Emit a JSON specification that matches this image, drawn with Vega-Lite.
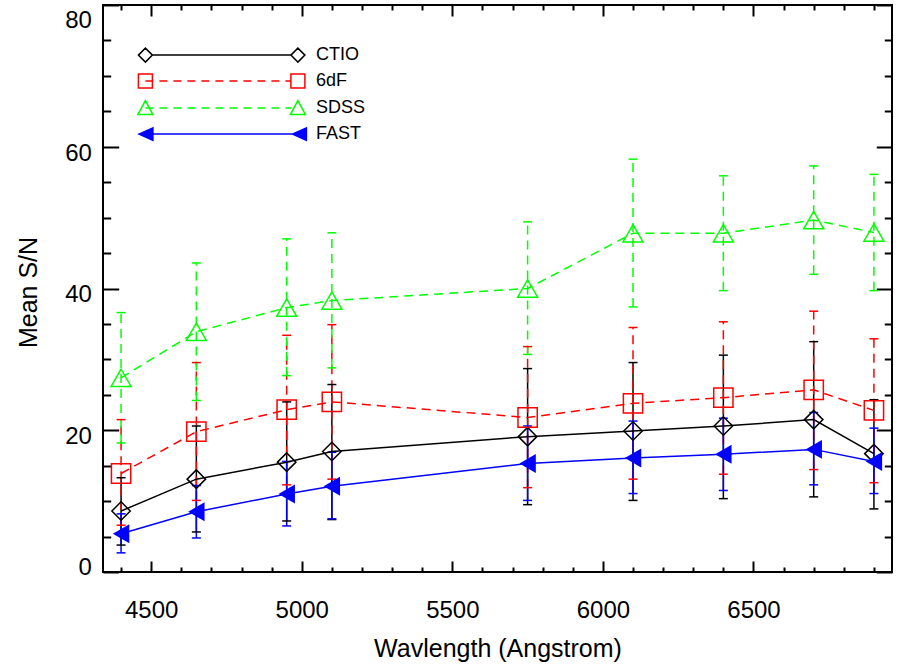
{
  "$schema": "https://vega.github.io/schema/vega-lite/v6.json",
  "width": 789,
  "height": 567,
  "autosize": {"type": "none"},
  "padding": {"left": 103, "top": 5, "right": 7, "bottom": 93},
  "background": "white",
  "config": {
    "view": {"stroke": "#000000", "strokeWidth": 2},
    "axis": {"grid": false, "domain": false, "labelFont": "Liberation Sans", "titleFont": "Liberation Sans", "labelColor": "#000000", "titleColor": "#000000", "tickColor": "#000000", "tickWidth": 2, "titleFontWeight": "normal"},
    "legend": {"labelFont": "Liberation Sans"}
  },
  "data": {
    "values": [
      {"series": "CTIO", "wl": 4400, "sn": 8.6, "lo": 3.8, "hi": 13.3},
      {"series": "CTIO", "wl": 4650, "sn": 13.1, "lo": 5.65, "hi": 20.6},
      {"series": "CTIO", "wl": 4950, "sn": 15.5, "lo": 7.2, "hi": 24.0},
      {"series": "CTIO", "wl": 5100, "sn": 17.0, "lo": 7.4, "hi": 26.45},
      {"series": "CTIO", "wl": 5750, "sn": 19.1, "lo": 9.5, "hi": 28.7},
      {"series": "CTIO", "wl": 6100, "sn": 19.9, "lo": 10.1, "hi": 29.55},
      {"series": "CTIO", "wl": 6400, "sn": 20.6, "lo": 10.35, "hi": 30.6},
      {"series": "CTIO", "wl": 6700, "sn": 21.5, "lo": 10.6, "hi": 32.5},
      {"series": "CTIO", "wl": 6900, "sn": 16.7, "lo": 8.9, "hi": 24.3},
      {"series": "6dF", "wl": 4400, "sn": 13.9, "lo": 6.6, "hi": 21.5},
      {"series": "6dF", "wl": 4650, "sn": 19.8, "lo": 10.1, "hi": 29.55},
      {"series": "6dF", "wl": 4950, "sn": 22.9, "lo": 12.3, "hi": 33.4},
      {"series": "6dF", "wl": 5100, "sn": 24.0, "lo": 13.1, "hi": 34.9},
      {"series": "6dF", "wl": 5750, "sn": 21.8, "lo": 11.9, "hi": 31.8},
      {"series": "6dF", "wl": 6100, "sn": 23.8, "lo": 13.1, "hi": 34.5},
      {"series": "6dF", "wl": 6400, "sn": 24.6, "lo": 13.8, "hi": 35.3},
      {"series": "6dF", "wl": 6700, "sn": 25.7, "lo": 14.45, "hi": 36.8},
      {"series": "6dF", "wl": 6900, "sn": 22.8, "lo": 12.6, "hi": 32.9},
      {"series": "SDSS", "wl": 4400, "sn": 27.4, "lo": 18.2, "hi": 36.6},
      {"series": "SDSS", "wl": 4650, "sn": 33.9, "lo": 24.2, "hi": 43.6},
      {"series": "SDSS", "wl": 4950, "sn": 37.3, "lo": 27.7, "hi": 47.0},
      {"series": "SDSS", "wl": 5100, "sn": 38.3, "lo": 28.8, "hi": 47.85},
      {"series": "SDSS", "wl": 5750, "sn": 40.0, "lo": 30.7, "hi": 49.4},
      {"series": "SDSS", "wl": 6100, "sn": 47.8, "lo": 37.4, "hi": 58.25},
      {"series": "SDSS", "wl": 6400, "sn": 47.8, "lo": 39.7, "hi": 55.9},
      {"series": "SDSS", "wl": 6700, "sn": 49.65, "lo": 42.0, "hi": 57.3},
      {"series": "SDSS", "wl": 6900, "sn": 47.9, "lo": 39.7, "hi": 56.1},
      {"series": "FAST", "wl": 4400, "sn": 5.4, "lo": 2.7, "hi": 8.2},
      {"series": "FAST", "wl": 4650, "sn": 8.5, "lo": 4.8, "hi": 12.2},
      {"series": "FAST", "wl": 4950, "sn": 11.0, "lo": 6.5, "hi": 15.6},
      {"series": "FAST", "wl": 5100, "sn": 12.1, "lo": 7.5, "hi": 16.9},
      {"series": "FAST", "wl": 5750, "sn": 15.3, "lo": 10.1, "hi": 20.6},
      {"series": "FAST", "wl": 6100, "sn": 16.1, "lo": 11.07, "hi": 21.3},
      {"series": "FAST", "wl": 6400, "sn": 16.6, "lo": 11.5, "hi": 21.7},
      {"series": "FAST", "wl": 6700, "sn": 17.3, "lo": 12.3, "hi": 22.5},
      {"series": "FAST", "wl": 6900, "sn": 15.6, "lo": 11.07, "hi": 20.3}
    ]
  },
  "resolve": {"axis": {"x": "independent", "y": "independent"}},
  "layer": [
    {
      "transform": [{"filter": "datum.series === 'CTIO'"}],
      "mark": {"type": "rule", "strokeWidth": 1.5},
      "encoding": {
        "x": {"field": "wl", "type": "quantitative", "scale": {"domain": [4340, 6960], "nice": false, "zero": false},
          "axis": {"orient": "bottom", "values": [4500, 5000, 5500, 6000, 6500], "format": "d", "ticks": false, "labelFontSize": 24, "labelBaseline": "alphabetic", "labelPadding": 45, "labelFlush": false, "labelOverlap": false,
            "title": "Wavlength (Angstrom)", "titleFontSize": 25, "titleBaseline": "alphabetic", "titleY": 84}},
        "y": {"field": "lo", "type": "quantitative", "scale": {"domain": [0, 80], "nice": false, "zero": false},
          "axis": {"orient": "left", "values": [0, 20, 40, 60, 80], "format": "d", "ticks": false, "labelFontSize": 24, "labelBaseline": "alphabetic", "labelPadding": 11.6, "labelFlush": false, "labelOverlap": false,
            "labelOffset": {"condition": [{"test": "datum.value === 0", "value": 2}, {"test": "datum.value === 80", "value": 22.5}], "value": 13.3},
            "title": "Mean S/N", "titleFontSize": 25, "titleBaseline": "alphabetic", "titleAngle": 270, "titleX": -66.5, "titleY": 287}},
        "y2": {"field": "hi"},
        "color": {"field": "series", "type": "nominal", "scale": {"domain": ["CTIO", "6dF", "SDSS", "FAST"], "range": ["#000000", "#ff0000", "#00ff00", "#0000ff"]},
          "legend": {"orient": "none", "legendX": 33.4, "legendY": 41.1, "padding": 0, "title": null, "rowPadding": 6, "labelFontSize": 18, "labelColor": "#000000", "labelOffset": 161.7, "labelLimit": 0, "symbolSize": 4, "symbolStrokeWidth": 1.5, "symbolOpacity": 1}}
      }
    },
    {
      "transform": [{"filter": "datum.series === '6dF' || datum.series === 'SDSS'"}],
      "mark": {"type": "rule", "strokeWidth": 1.5, "strokeDash": [9, 6]},
      "encoding": {
        "x": {"field": "wl", "type": "quantitative", "axis": null},
        "y": {"field": "lo", "type": "quantitative", "axis": null},
        "y2": {"field": "hi"},
        "color": {"field": "series", "type": "nominal"}
      }
    },
    {
      "transform": [{"filter": "datum.series === 'FAST'"}],
      "mark": {"type": "rule", "strokeWidth": 1.5},
      "encoding": {
        "x": {"field": "wl", "type": "quantitative", "axis": null},
        "y": {"field": "lo", "type": "quantitative", "axis": null},
        "y2": {"field": "hi"},
        "color": {"field": "series", "type": "nominal"}
      }
    },
    {
      "mark": {"type": "rule", "strokeWidth": 1.5, "xOffset": -4.5, "x2Offset": 4.5},
      "encoding": {
        "x": {"field": "wl", "type": "quantitative",
          "axis": {"orient": "bottom", "values": [4500, 5000, 5500, 6000, 6500], "labels": false, "tickSize": -11, "title": null}},
        "x2": {"field": "wl"},
        "y": {"field": "lo", "type": "quantitative",
          "axis": {"orient": "left", "values": [0, 20, 40, 60, 80], "labels": false, "tickSize": -15.7, "title": null}},
        "color": {"field": "series", "type": "nominal"}
      }
    },
    {
      "mark": {"type": "rule", "strokeWidth": 1.5, "xOffset": -4.5, "x2Offset": 4.5},
      "encoding": {
        "x": {"field": "wl", "type": "quantitative",
          "axis": {"orient": "bottom", "values": [4400, 4600, 4700, 4800, 4900, 5100, 5200, 5300, 5400, 5600, 5700, 5800, 5900, 6100, 6200, 6300, 6400, 6600, 6700, 6800, 6900], "labels": false, "tickSize": -5, "title": null}},
        "x2": {"field": "wl"},
        "y": {"field": "hi", "type": "quantitative",
          "axis": {"orient": "left", "values": [5, 10, 15, 25, 30, 35, 45, 50, 55, 65, 70, 75], "labels": false, "tickSize": -7.7, "title": null}},
        "color": {"field": "series", "type": "nominal"}
      }
    },
    {
      "transform": [{"filter": "datum.series === 'CTIO' || datum.series === 'FAST'"}],
      "mark": {"type": "line", "strokeWidth": 1.5},
      "encoding": {
        "x": {"field": "wl", "type": "quantitative",
          "axis": {"orient": "top", "values": [4500, 5000, 5500, 6000, 6500], "labels": false, "tickSize": -11, "title": null}},
        "y": {"field": "sn", "type": "quantitative",
          "axis": {"orient": "right", "values": [0, 20, 40, 60, 80], "labels": false, "tickSize": -15.7, "title": null}},
        "color": {"field": "series", "type": "nominal"}
      }
    },
    {
      "transform": [{"filter": "datum.series === '6dF' || datum.series === 'SDSS'"}],
      "mark": {"type": "line", "strokeWidth": 1.5, "strokeDash": [9, 6]},
      "encoding": {
        "x": {"field": "wl", "type": "quantitative", "axis": null},
        "y": {"field": "sn", "type": "quantitative", "axis": null},
        "color": {"field": "series", "type": "nominal"}
      }
    },
    {
      "transform": [{"filter": "datum.series === 'CTIO'"}],
      "mark": {"type": "point", "shape": "diamond", "size": 340, "filled": false, "opacity": 1, "strokeWidth": 1.5},
      "encoding": {
        "x": {"field": "wl", "type": "quantitative",
          "axis": {"orient": "top", "values": [4400, 4600, 4700, 4800, 4900, 5100, 5200, 5300, 5400, 5600, 5700, 5800, 5900, 6100, 6200, 6300, 6400, 6600, 6700, 6800, 6900], "labels": false, "tickSize": -5, "title": null}},
        "y": {"field": "sn", "type": "quantitative",
          "axis": {"orient": "right", "values": [5, 10, 15, 25, 30, 35, 45, 50, 55, 65, 70, 75], "labels": false, "tickSize": -7.7, "title": null}},
        "color": {"field": "series", "type": "nominal"}
      }
    },
    {
      "transform": [{"filter": "datum.series === '6dF'"}],
      "mark": {"type": "point", "shape": "square", "size": 372, "filled": false, "opacity": 1, "strokeWidth": 1.5},
      "encoding": {
        "x": {"field": "wl", "type": "quantitative", "axis": null},
        "y": {"field": "sn", "type": "quantitative", "axis": null},
        "color": {"field": "series", "type": "nominal"}
      }
    },
    {
      "transform": [{"filter": "datum.series === 'SDSS'"}],
      "mark": {"type": "point", "shape": "triangle-up", "size": 400, "filled": false, "opacity": 1, "strokeWidth": 1.5},
      "encoding": {
        "x": {"field": "wl", "type": "quantitative", "axis": null},
        "y": {"field": "sn", "type": "quantitative", "axis": null},
        "color": {"field": "series", "type": "nominal"}
      }
    },
    {
      "transform": [{"filter": "datum.series === 'FAST'"}],
      "mark": {"type": "point", "shape": "triangle-left", "size": 360, "filled": true, "opacity": 1, "color": "#0000ff"},
      "encoding": {
        "x": {"field": "wl", "type": "quantitative", "axis": null},
        "y": {"field": "sn", "type": "quantitative", "axis": null}
      }
    },
    {
      "transform": [{"filter": "false"}],
      "mark": {"type": "point", "filled": false, "opacity": 1, "strokeWidth": 1.5},
      "encoding": {
        "x": {"field": "wl", "type": "quantitative", "axis": null},
        "y": {"field": "sn", "type": "quantitative", "axis": null},
        "color": {"field": "series", "type": "nominal"},
        "shape": {"field": "series", "type": "nominal",
          "scale": {"domain": ["CTIO", "6dF", "SDSS", "FAST"], "range": [
            "M-7,0L0,-7L7,0L0,7ZM7,0L145.5,0M145.5,0L152.5,-7L159.5,0L152.5,7Z",
            "M-7,-7L7,-7L7,7L-7,7ZM0,0L8,0M14,0L22,0M28,0L36,0M42,0L50,0M56,0L64,0M70,0L78,0M84,0L92,0M98,0L106,0M112,0L120,0M126,0L134,0M140,0L145.5,0M145.5,-7L159.5,-7L159.5,7L145.5,7Z",
            "M0,-7.5L7.5,6.5L-7.5,6.5ZM0,0L8,0M14,0L22,0M28,0L36,0M42,0L50,0M56,0L64,0M70,0L78,0M84,0L92,0M98,0L106,0M112,0L120,0M126,0L134,0M140,0L146,0M152.5,-7.5L160,6.5L145,6.5Z",
            "M-6.5,0L7.5,-6.2L7.5,6.2ZM0,0L154,0M147,0L161,-6.2L161,6.2Z"]},
          "legend": {"orient": "none", "legendX": 33.4, "legendY": 41.1, "padding": 0, "title": null, "rowPadding": 6, "labelFontSize": 18, "labelColor": "#000000", "labelOffset": 161.7, "labelLimit": 0, "symbolSize": 4, "symbolStrokeWidth": 1.5, "symbolOpacity": 1}},
        "fill": {"field": "series", "type": "nominal",
          "scale": {"domain": ["CTIO", "6dF", "SDSS", "FAST"], "range": ["transparent", "transparent", "transparent", "#0000ff"]},
          "legend": {"orient": "none", "legendX": 33.4, "legendY": 41.1, "padding": 0, "title": null, "rowPadding": 6, "labelFontSize": 18, "labelColor": "#000000", "labelOffset": 161.7, "labelLimit": 0, "symbolSize": 4, "symbolStrokeWidth": 1.5, "symbolOpacity": 1}}
      }
    }
  ]
}
